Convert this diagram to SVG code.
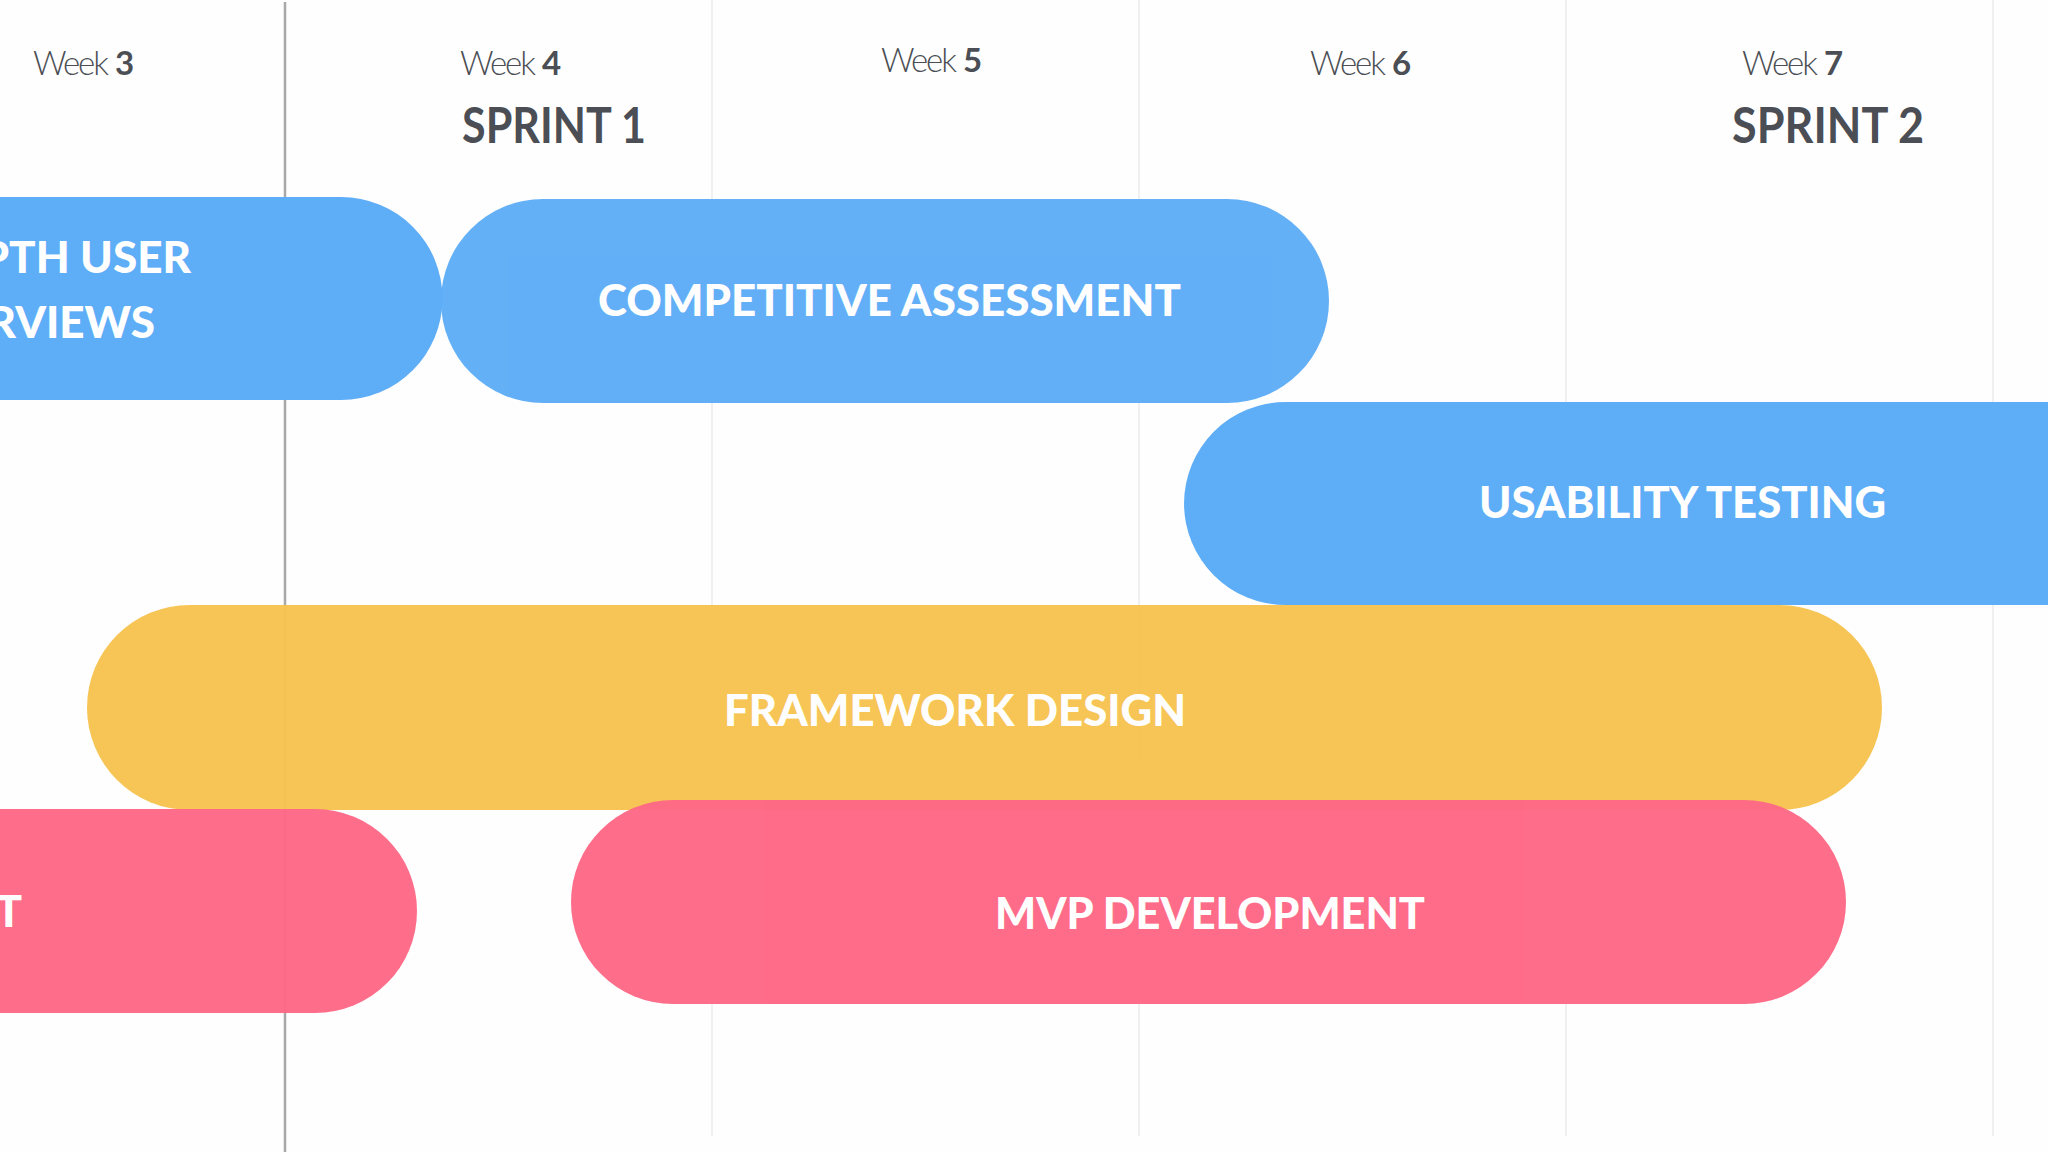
<svg xmlns="http://www.w3.org/2000/svg" width="2048" height="1152" viewBox="0 0 2048 1152">
  <style>
    .wk { font-family: Lato, "Open Sans", sans-serif; font-size: 33px; fill: #4b4e54; letter-spacing: -2px; word-spacing: 1px; }
    .wk .l { font-weight: 300; }
    .wk .b { font-weight: 700; }
    .sp { font-family: Lato, "Open Sans", sans-serif; font-size: 50px; font-weight: 700; fill: #4b4e54; }
    .pt { font-family: Lato, "Open Sans", sans-serif; font-size: 44px; font-weight: 900; fill: #ffffff; }
    .grid { stroke: #ebebeb; stroke-width: 1.5; }
    .blue { fill: #5eadf7; }
    .yellow { fill: #f6c34f; }
    .pink { fill: #fe6886; }
  </style>
  <rect width="2048" height="1152" fill="#fefefe"/>

  <g id="grid">
    <line class="grid" x1="712" y1="0" x2="712" y2="1136"/>
    <line class="grid" x1="1139" y1="0" x2="1139" y2="1136"/>
    <line class="grid" x1="1566" y1="0" x2="1566" y2="1136"/>
    <line class="grid" x1="1993" y1="0" x2="1993" y2="1136"/>
    <line x1="285" y1="2" x2="285" y2="1152" stroke="#a8a8a8" stroke-width="2.5"/>
  </g>

  <g id="headers">
    <text class="wk" x="33" y="75"><tspan class="l">Week </tspan><tspan class="b">3</tspan></text>
    <text class="wk" x="460" y="75"><tspan class="l">Week </tspan><tspan class="b">4</tspan></text>
    <text class="wk" x="881" y="72"><tspan class="l">Week </tspan><tspan class="b">5</tspan></text>
    <text class="wk" x="1310" y="75"><tspan class="l">Week </tspan><tspan class="b">6</tspan></text>
    <text class="wk" x="1742" y="75"><tspan class="l">Week </tspan><tspan class="b">7</tspan></text>
    <text class="sp" x="462" y="143" textLength="184" lengthAdjust="spacingAndGlyphs">SPRINT 1</text>
    <text class="sp" x="1732" y="143" textLength="192" lengthAdjust="spacingAndGlyphs">SPRINT 2</text>
  </g>

  <g id="node-interviews">
    <path class="blue" d="M-20 197 H341 A101.5 101.5 0 0 1 341 400 H-20 Z"/>
    <text class="pt" x="191" y="273" text-anchor="end">PTH USER</text>
    <text class="pt" x="155" y="338" text-anchor="end">RVIEWS</text>
  </g>

  <g id="node-competitive" opacity="0.97">
    <rect class="blue" x="441" y="199" width="888" height="204" rx="102" ry="102"/>
    <text class="pt" x="598" y="316" textLength="583" lengthAdjust="spacingAndGlyphs">COMPETITIVE ASSESSMENT</text>
  </g>

  <g id="node-usability">
    <path class="blue" d="M2060 402 H1285.5 A101.5 101.5 0 0 0 1285.5 605 H2060 Z"/>
    <text class="pt" x="1479" y="518" textLength="407" lengthAdjust="spacingAndGlyphs">USABILITY TESTING</text>
  </g>

  <g id="node-framework" opacity="0.96">
    <rect class="yellow" x="87" y="605" width="1795" height="205" rx="102.5" ry="102.5"/>
    <text class="pt" x="724" y="726" textLength="462" lengthAdjust="spacingAndGlyphs">FRAMEWORK DESIGN</text>
  </g>

  <g id="node-left-pink" opacity="0.96">
    <path class="pink" d="M-20 809 H315 A102 102 0 0 1 315 1013 H-20 Z"/>
    <text class="pt" x="22" y="927" text-anchor="end">T</text>
  </g>

  <g id="node-mvp" opacity="0.97">
    <rect class="pink" x="571" y="800" width="1275" height="204" rx="102" ry="102"/>
    <text class="pt" x="995" y="929" textLength="430" lengthAdjust="spacingAndGlyphs">MVP DEVELOPMENT</text>
  </g>

  <g id="connectors"/>
</svg>
